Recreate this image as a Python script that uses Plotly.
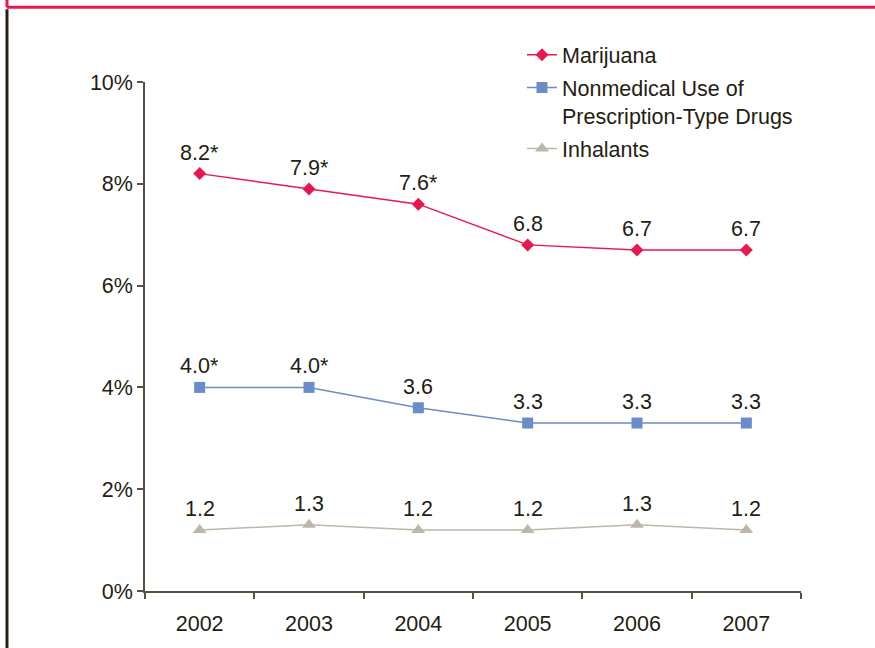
import plotly.graph_objects as go

years = ["2002", "2003", "2004", "2005", "2006", "2007"]
marijuana = [8.2, 7.9, 7.6, 6.8, 6.7, 6.7]
marijuana_labels = ["8.2*", "7.9*", "7.6*", "6.8", "6.7", "6.7"]
prescription = [4.0, 4.0, 3.6, 3.3, 3.3, 3.3]
prescription_labels = ["4.0*", "4.0*", "3.6", "3.3", "3.3", "3.3"]
inhalants = [1.2, 1.3, 1.2, 1.2, 1.3, 1.2]
inhalants_labels = ["1.2", "1.3", "1.2", "1.2", "1.3", "1.2"]

TEXT = "#231d12"
AXIS = "#5a5040"
FONT = "Liberation Sans, Arial, sans-serif"
FS = 21.5

series = [
    ("Marijuana", marijuana, marijuana_labels, "#e8174f", "diamond", 10),
    ("Nonmedical Use of<br>Prescription-Type Drugs", prescription, prescription_labels, "#6a8cc8", "square", 11),
    ("Inhalants", inhalants, inhalants_labels, "#bdb7a8", "triangle-up", 12),
]

fig = go.Figure()
annotations = []
for gi, (name, vals, labels, color, sym, size) in enumerate(series):
    fig.add_trace(go.Scatter(
        x=years, y=vals, name=name, mode="lines+markers", legendgroup=f"g{gi}",
        line=dict(color=color, width=1.5),
        marker=dict(symbol=sym, size=size, color=color),
    ))
    for i, (y, t) in enumerate(zip(vals, labels)):
        annotations.append(dict(x=i, y=y, xref="x", yref="y", text=t, showarrow=False,
                                yshift=21, font=dict(size=FS, color=TEXT, family=FONT)))

L, R, T, B = 145, 74, 82, 55
W, H = 875, 648
pw, ph = W - L - R, H - T - B

def px_x(p):
    return (p - L) / pw

def px_y(p):
    return (H - B - p) / ph

shapes = [
    dict(type="line", xref="paper", yref="paper", x0=px_x(7), x1=px_x(880), y0=px_y(7), y1=px_y(7),
         line=dict(color="#e8174f", width=3)),
    dict(type="line", xref="paper", yref="paper", x0=px_x(7), x1=px_x(7), y0=px_y(-5), y1=px_y(7),
         line=dict(color="#e8174f", width=3)),
    dict(type="line", xref="paper", yref="paper", x0=px_x(7), x1=px_x(7), y0=px_y(9), y1=px_y(660),
         line=dict(color="#2a2010", width=3)),
]

fig.update_layout(
    width=W, height=H,
    margin=dict(l=L, r=R, t=T, b=B),
    paper_bgcolor="white", plot_bgcolor="white",
    font=dict(family=FONT, size=FS, color=TEXT),
    showlegend=True,
    legend=dict(x=px_x(522), y=px_y(34), xanchor="left", yanchor="top", valign="top",
                font=dict(size=FS, color=TEXT), bgcolor="rgba(0,0,0,0)",
                traceorder="grouped", tracegroupgap=2),
    annotations=annotations,
    shapes=shapes,
    xaxis=dict(type="category", range=[-0.5, 5.5], showline=True, linecolor=AXIS, linewidth=1.5,
               ticks="outside", tickson="boundaries", ticklen=6, tickcolor=AXIS, tickwidth=1.5,
               showgrid=False, zeroline=False, ticklabelstandoff=12,
               tickfont=dict(size=FS, color=TEXT)),
    yaxis=dict(range=[0, 10], dtick=2, ticksuffix="%", showline=True, linecolor=AXIS, linewidth=1.5,
               ticks="outside", ticklen=6, tickcolor=AXIS, tickwidth=1.5,
               showgrid=False, zeroline=False,
               tickfont=dict(size=FS, color=TEXT)),
)

fig.write_html("out.html", config={"displayModeBar": False},
               post_script="document.body.style.margin='0';")
